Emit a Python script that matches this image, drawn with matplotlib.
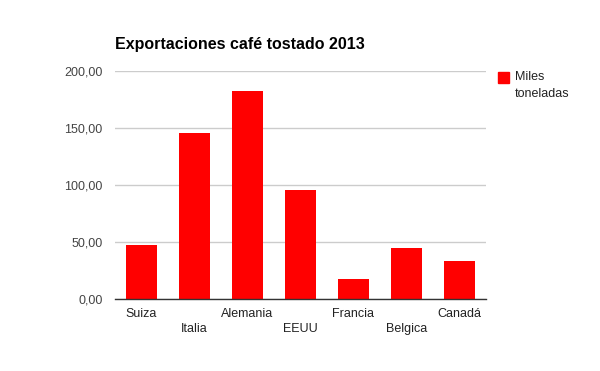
import matplotlib
matplotlib.use("Agg")
import matplotlib.pyplot as plt
import matplotlib.patches as mpatches

paises = ["Suiza", "Italia", "Alemania", "EEUU", "Francia", "Belgica", "Canadá"]
miles_toneladas = [47.4, 145.8, 182.7, 95.7, 17.6, 44.8, 33.4]
yticks = [0, 50, 100, 150, 200]

plt.rcParams['font.family'] = ['Liberation Sans', 'DejaVu Sans']

fig = plt.figure(figsize=(6, 3.71), dpi=100)
ax = fig.add_axes([115 / 600, 1 - 299 / 371, 371 / 600, (299 - 71.3) / 371])

x = range(len(paises))
ax.bar(x, miles_toneladas, width=0.6, color="#ff0000", zorder=2)

ax.set_xlim(-0.5, len(paises) - 0.5)
ax.set_ylim(0, 200)
ax.set_yticks(yticks)
ax.set_yticklabels([f"{v:.2f}".replace(".", ",") for v in yticks],
                   fontsize=9, color="#444444")
ax.yaxis.grid(True, color="#cccccc", linewidth=1, zorder=0)
ax.tick_params(axis="y", length=0, pad=9)
ax.tick_params(axis="x", length=0)
ax.set_xticks([])

for s in ["top", "right", "left"]:
    ax.spines[s].set_visible(False)
ax.spines["bottom"].set_color("#333333")
ax.spines["bottom"].set_linewidth(1)
ax.spines["bottom"].set_zorder(3)

# etiquetas escalonadas en dos filas
for i, p in enumerate(paises):
    dy = -15 if i % 2 == 0 else -30
    ax.annotate(p, (i, 0), xytext=(0, dy), textcoords="offset pixels",
                ha="center", va="center", fontsize=9, color="#222222",
                annotation_clip=False)

fig.text(115 / 600, 1 - 45 / 371, "Exportaciones café tostado 2013",
         fontsize=11.5, fontweight="bold", ha="left", va="center")

fig.patches.append(mpatches.Rectangle((498 / 600, 1 - 83 / 371), 11 / 600, 11 / 371,
                                      transform=fig.transFigure, color="#ff0000"))
fig.text(515 / 600, 1 - 77 / 371, "Miles", fontsize=9, color="#222222",
         ha="left", va="center")
fig.text(515 / 600, 1 - 94 / 371, "toneladas", fontsize=9, color="#222222",
         ha="left", va="center")

fig.savefig("out.png", dpi=100)
